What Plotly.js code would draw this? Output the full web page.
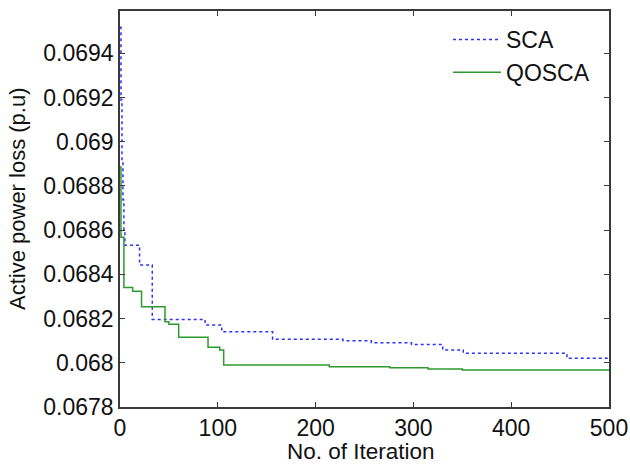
<!DOCTYPE html>
<html>
<head>
<meta charset="utf-8">
<script src="https://cdn.plot.ly/plotly-3.0.1.min.js"></script>
<style>html,body{margin:0;padding:0;background:#fff;}#chart{width:630px;height:465px;}</style>
</head>
<body>
<div id="chart"></div>
<script>
// SCA convergence (step breakpoints: iteration, loss)
const scaIter = [0, 1, 2, 3, 4, 5, 20, 33, 87, 104, 156, 228, 257, 298, 330, 351, 457, 500];
const scaLoss = [0.069518, 0.069188, 0.068916, 0.068736, 0.0686, 0.068532, 0.068442, 0.068196, 0.068171, 0.06814, 0.068106, 0.0681, 0.068091, 0.068083, 0.068058, 0.068043, 0.06802, 0.06802];
// QOSCA convergence
const qoIter = [0, 1, 4, 13, 22, 46, 50, 60, 90, 102, 106, 214, 276, 315, 350, 500];
const qoLoss = [0.068886, 0.068568, 0.068341, 0.068324, 0.068253, 0.068186, 0.068174, 0.068115, 0.06807, 0.068058, 0.06799, 0.067982, 0.067978, 0.067972, 0.067967, 0.067967];
const yTickVals = [0.0678, 0.068, 0.0682, 0.0684, 0.0686, 0.0688, 0.069, 0.0692, 0.0694];
const yTickText = ['0.0678', '0.068', '0.0682', '0.0684', '0.0686', '0.0688', '0.069', '0.0692', '0.0694'];
const xTickVals = [0, 100, 200, 300, 400, 500];
const xTitle = 'No. of Iteration';
const yTitle = 'Active power loss (p.u)';

const FONT = 'Liberation Sans, Arial, sans-serif';
const traces = [
  {x: scaIter, y: scaLoss, name: 'SCA', mode: 'lines',
   line: {color: '#2f2fff', width: 1.5, dash: 'dot', shape: 'hv'}},
  {x: qoIter, y: qoLoss, name: 'QOSCA', mode: 'lines',
   line: {color: '#2e9a2e', width: 1.5, shape: 'hv'}}
];
const axisCommon = {showline: true, linecolor: '#3a3a3a', linewidth: 1.5, mirror: 'ticks',
  ticks: 'inside', ticklen: 5, tickcolor: '#3a3a3a', tickwidth: 1.2, showgrid: false, zeroline: false,
  tickfont: {family: FONT, size: 23, color: '#111'}};
const layout = {
  width: 630, height: 465,
  margin: {l: 120, r: 21, t: 11, b: 58},
  paper_bgcolor: '#fff', plot_bgcolor: '#fff',
  font: {family: FONT, color: '#111'},
  xaxis: Object.assign({}, axisCommon, {range: [0, 500], tickvals: xTickVals}),
  yaxis: Object.assign({}, axisCommon, {range: [0.0678, 0.069591], tickvals: yTickVals, ticktext: yTickText}),
  annotations: [
    {text: xTitle, xref: 'paper', yref: 'paper', x: (361 - 120) / 489, y: -(451 - 407) / 396,
     xanchor: 'center', yanchor: 'middle', showarrow: false, font: {family: FONT, size: 22.5, color: '#111'}},
    {text: yTitle, xref: 'paper', yref: 'paper', x: -(120 - 18) / 489, y: (407 - 199) / 396,
     xanchor: 'center', yanchor: 'middle', textangle: -90, showarrow: false, font: {family: FONT, size: 22, color: '#111'}}
  ],
  showlegend: true,
  legend: {x: (448 - 120) / 489, y: (407 - 18) / 396, xanchor: 'left', yanchor: 'top', bgcolor: 'rgba(0,0,0,0)',
    itemwidth: 48, font: {family: FONT, size: 23, color: '#111'}, tracegroupgap: 0}
};
Plotly.newPlot('chart', traces, layout, {displayModeBar: false});
</script>
</body>
</html>
